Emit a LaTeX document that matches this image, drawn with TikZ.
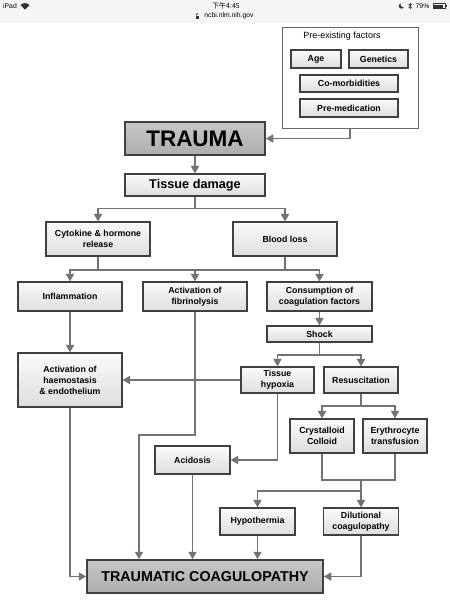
\documentclass[tikz,border=0pt]{standalone}
\usepackage{fontspec}
\setmainfont{Liberation Sans}
\newfontfamily\cjk{Noto Sans CJK SC}
\usetikzlibrary{arrows.meta}
\tikzset{box/.style = {draw=black!75, top color=black!2, bottom color=black!13, line width=1.1pt, align=center,
                       font=\bfseries\fontsize{8.8}{11}\selectfont, inner sep=1pt}}
\tikzset{bigbox/.style = {box, top color=black!22, bottom color=black!32, line width=1.5pt}}
\tikzset{link/.style = {draw=black!55, line width=1.7pt}}
\tikzset{arr/.style = {link, -{Triangle[length=7.5pt,width=8pt]}}}
\tikzset{bar/.style = {font=\fontsize{6.8}{7}\selectfont, inner sep=0pt}}

\begin{document}
\begin{tikzpicture}[x=1pt, y=-1pt]
    \useasboundingbox (0,0) rectangle (450,600);

    % status bar
    \fill[black!4] (0,0) rectangle (450,23);
    \node[bar, anchor=west] (ipad) at (3,6) {iPad};
    \fill[black!80] (25,9.5) -- (20.5,5) .. controls (23,2.5) and (27,2.5) .. (29.5,5) -- cycle;
    \node[bar, font=\cjk\fontsize{7}{8}\selectfont] (clock) at (226,6) {下午4:45};
    \fill[black!80] (195.5,15.5) rectangle (199,19);
    \draw[black!80, line width=0.6pt] (196.2,15.5) -- (196.2,14.5) arc[start angle=180, end angle=360, radius=1];
    \node[bar] (url) at (229,16) {ncbi.nlm.nih.gov};
    \fill[black!80] (401.5,6) circle (2.7);
    \fill[black!4] (403,4.8) circle (2.3);
    \draw[black!80, line width=0.5pt] (408.5,4) -- (411.5,7.5) -- (410,9) -- (410,3) -- (411.5,4.5) -- (408.5,8);
    \node[bar, anchor=west] (batt) at (415.5,6) {79\%};
    \draw[black!80, line width=0.5pt] (433,3.5) rectangle (445,8.5);
    \fill[black!80] (434,4.5) rectangle (443,7.5);
    \fill[black!80] (445.3,5) rectangle (446.5,7);

    % pre-existing factors
    \node[draw=black!60, line width=0.9pt, fill=white, minimum width=136pt, minimum height=101pt] (pre) at (350,77.5) {};
    \node[font=\fontsize{9}{10}\selectfont] (pretitle) at (342,36) {Pre-existing factors};
    \node[box, minimum width=50pt, minimum height=18pt] (age) at (316,59) {Age};
    \node[box, minimum width=59pt, minimum height=18pt] (genetics) at (378.5,59) {Genetics};
    \node[box, minimum width=98pt, minimum height=17pt] (comorb) at (349,83.5) {Co-morbidities};
    \node[box, minimum width=98pt, minimum height=18pt] (premed) at (349,108) {Pre-medication};

    \node[bigbox, minimum width=140pt, minimum height=33pt, font=\bfseries\fontsize{22.5}{24}\selectfont] (trauma) at (195,138.5) {TRAUMA};
    \node[box, minimum width=140pt, minimum height=22pt, font=\bfseries\fontsize{12.7}{14}\selectfont] (tissue) at (195,185) {Tissue damage};

    \node[box, minimum width=104pt, minimum height=34pt] (cytokine) at (98,239) {Cytokine \& hormone\\release};
    \node[box, minimum width=104pt, minimum height=34pt] (blood) at (285,239) {Blood loss};

    \node[box, minimum width=104pt, minimum height=29pt] (inflam) at (70,296.5) {Inflammation};
    \node[box, minimum width=104pt, minimum height=29pt] (fibrin) at (195,296.5) {Activation of\\fibrinolysis};
    \node[box, minimum width=105pt, minimum height=29pt] (consum) at (319.5,296.5) {Consumption of\\coagulation factors};
    \node[box, minimum width=105pt, minimum height=16pt] (shock) at (319.5,334) {Shock};

    \node[box, minimum width=104pt, minimum height=54pt] (haemo) at (70,380) {Activation of\\haemostasis\\\& endothelium};
    \node[box, minimum width=73pt, minimum height=26pt] (hypoxia) at (277.5,380) {Tissue\\hypoxia};
    \node[box, minimum width=74pt, minimum height=26pt] (resus) at (361,380) {Resuscitation};

    \node[box, minimum width=64pt, minimum height=34pt] (crystal) at (322,436) {Crystalloid\\Colloid};
    \node[box, minimum width=64pt, minimum height=34pt] (eryth) at (395,436) {Erythrocyte\\transfusion};
    \node[box, minimum width=75pt, minimum height=28pt] (acid) at (192.5,460) {Acidosis};

    \node[box, minimum width=75pt, minimum height=27pt] (hypo) at (257.5,521.5) {Hypothermia};
    \node[box, minimum width=75pt, minimum height=27pt] (dilut) at (361,521.5) {Dilutional\\coagulopathy};

    \node[bigbox, minimum width=236pt, minimum height=33pt, font=\bfseries\fontsize{14.3}{16}\selectfont] (tc) at (205,576.5) {TRAUMATIC COAGULOPATHY};

    % junctions
    \coordinate (j1) at (195,208.5);
    \coordinate (j2) at (195,270);
    \coordinate (j3) at (319.5,355);
    \coordinate (j4) at (361,406);
    \coordinate (j5) at (361,480);
    \coordinate (j6) at (361,491);
    \coordinate (j7) at (139,435);

    \draw[arr] (pre.south) |- (trauma.east);
    \draw[arr] (trauma) -- (tissue);
    \draw[link] (tissue) -- (j1);
    \draw[arr] (j1) -| (cytokine);
    \draw[arr] (j1) -| (blood);
    \draw[link] (cytokine) |- (j2);
    \draw[link] (blood) |- (j2);
    \draw[arr] (j2) -| (inflam);
    \draw[arr] (j2) -- (fibrin);
    \draw[arr] (j2) -| (consum);
    \draw[arr] (consum) -- (shock);
    \draw[link] (shock) -- (j3);
    \draw[arr] (j3) -| (hypoxia);
    \draw[arr] (j3) -| (resus);
    \draw[arr] (inflam) -- (haemo);
    \draw[arr] (hypoxia) -- (haemo);
    \draw[arr] (hypoxia) |- (acid);
    \draw[link] (resus) -- (j4);
    \draw[arr] (j4) -| (crystal);
    \draw[arr] (j4) -| (eryth);
    \draw[link] (crystal) |- (j5) -| (eryth);
    \draw[arr] (j5) -- (dilut);
    \draw[arr] (j6) -| (hypo);
    \draw[arr] (haemo) |- (tc);
    \draw[arr] (fibrin) |- (j7) -- (j7 |- tc.north);
    \draw[arr] (acid) -- (acid |- tc.north);
    \draw[arr] (hypo) -- (hypo |- tc.north);
    \draw[arr] (dilut) |- (tc);
\end{tikzpicture}
\end{document}
